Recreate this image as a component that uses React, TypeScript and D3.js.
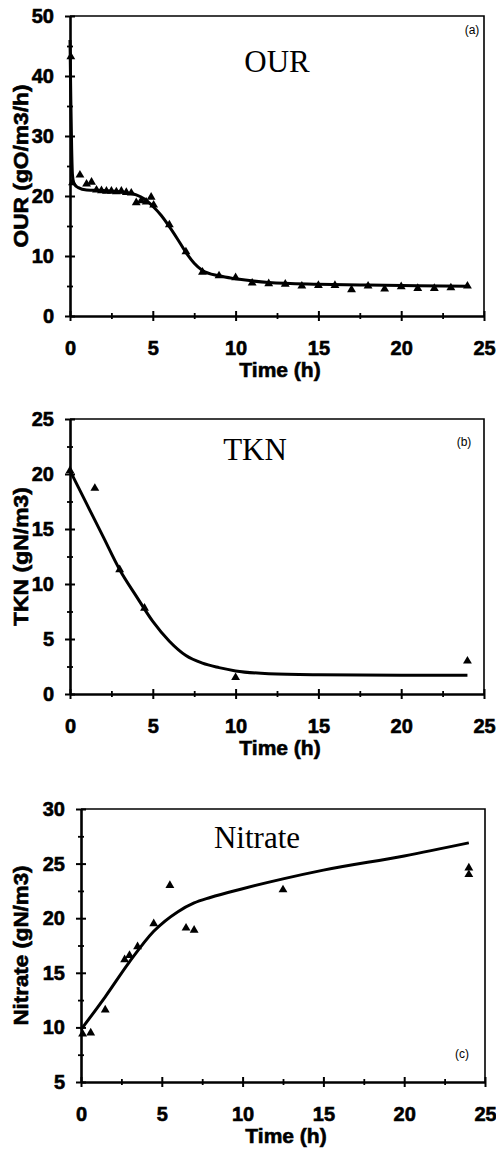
import React, { useEffect, useRef } from 'react';
import * as d3 from 'd3';

// (a) OUR - measured points and model curve
const ourTime = [0.05, 0.15, 0.6, 1.0, 1.3, 1.6, 1.9, 2.2, 2.5, 2.8, 3.1, 3.4, 3.7, 4.0, 4.3, 4.6, 4.9, 5.05, 6.0, 7.0, 8.0, 9.0, 10.0, 11, 12, 13, 14, 15, 16, 17, 18, 19, 20, 21, 22, 23, 24];
const ourValue = [43.2, 22.2, 23.5, 22.0, 22.3, 21.0, 20.9, 20.8, 20.8, 20.7, 20.8, 20.6, 20.5, 18.9, 19.2, 19.0, 19.8, 18.5, 15.2, 10.7, 7.3, 6.7, 6.4, 5.5, 5.4, 5.3, 5.0, 5.1, 5.1, 4.4, 5.0, 4.5, 4.9, 4.6, 4.6, 4.7, 5.0];
const ourModelTime = [0, 0.05, 0.1, 0.15, 0.25, 0.5, 1, 2, 3, 3.5, 4, 4.5, 5, 5.5, 6, 6.5, 7, 7.5, 8, 9, 10, 12, 15, 18, 21, 24];
const ourModelValue = [46, 36, 28, 23.5, 22.0, 21.4, 21.0, 20.9, 20.7, 20.5, 20.2, 19.5, 18.3, 16.8, 14.9, 12.8, 10.6, 8.8, 7.6, 6.7, 6.2, 5.6, 5.3, 5.15, 5.05, 4.95];

// (b) TKN
const tknTime = [0, 1.5, 3.0, 4.5, 10.0, 24.0];
const tknValue = [20.3, 18.7, 11.3, 7.8, 1.5, 3.0];
const tknModelTime = [0, 1, 2, 3, 4, 5, 6, 7, 8, 9, 10, 12, 15, 20, 24];
const tknModelValue = [20.3, 17.3, 14.3, 11.3, 8.9, 6.6, 4.8, 3.5, 2.8, 2.4, 2.1, 1.85, 1.75, 1.7, 1.7];

// (c) Nitrate
const no3Time = [0.1, 0.6, 1.5, 2.7, 3.0, 3.5, 4.5, 5.5, 6.5, 7.0, 12.5, 24.0, 24.0];
const no3Value = [9.4, 9.5, 11.6, 16.2, 16.6, 17.4, 19.5, 23.0, 19.1, 18.9, 22.6, 24.6, 24.0];
const no3ModelTime = [0, 1.5, 3, 4.5, 6, 7, 8, 10, 12.5, 15, 20, 24];
const no3ModelValue = [9.8, 12.8, 16.0, 18.8, 20.6, 21.4, 21.9, 22.7, 23.6, 24.4, 25.7, 26.9];

const xTicks = [0, 5, 10, 15, 20, 25];
const xMinorTicks = [2.5, 7.5, 12.5, 17.5, 22.5];

const panels = [
  {
    title: 'OUR', tag: '(a)', yLabel: 'OUR (gO/m3/h)',
    time: ourTime, value: ourValue, modelTime: ourModelTime, modelValue: ourModelValue,
    yDomain: [0, 50], yTicks: [0, 10, 20, 30, 40, 50], yMinor: [5, 15, 25, 35, 45],
    box: { left: 70, right: 484, top: 16, bottom: 316 },
    titlePos: [277, 72], tagPos: [472, 34], yLabelLen: 163,
  },
  {
    title: 'TKN', tag: '(b)', yLabel: 'TKN (gN/m3)',
    time: tknTime, value: tknValue, modelTime: tknModelTime, modelValue: tknModelValue,
    yDomain: [0, 25], yTicks: [0, 5, 10, 15, 20, 25], yMinor: [2.5, 7.5, 12.5, 17.5, 22.5],
    box: { left: 70, right: 484, top: 419, bottom: 694 },
    titlePos: [255, 460], tagPos: [464, 446], yLabelLen: 139,
  },
  {
    title: 'Nitrate', tag: '(c)', yLabel: 'Nitrate (gN/m3)',
    time: no3Time, value: no3Value, modelTime: no3ModelTime, modelValue: no3ModelValue,
    yDomain: [5, 30], yTicks: [5, 10, 15, 20, 25, 30], yMinor: [7.5, 12.5, 17.5, 22.5, 27.5],
    box: { left: 81, right: 485, top: 809, bottom: 1082 },
    titlePos: [257, 848], tagPos: [462, 1058], yLabelLen: 160,
  },
];

function App() {
  const svgRef = useRef<SVGSVGElement>(null);

  useEffect(() => {
    document.body.style.margin = '0';
    const svg = d3.select(svgRef.current);
    svg.selectAll('*').remove();

    const sans = '"Liberation Sans", Arial, sans-serif';
    const serif = '"Liberation Serif", "Times New Roman", serif';

    panels.forEach(p => {
      const { left, right, top, bottom } = p.box;
      const x = d3.scaleLinear().domain([0, 25]).range([left, right]);
      const y = d3.scaleLinear().domain(p.yDomain).range([bottom, top]);
      const g = svg.append('g');

      // frame top / right
      g.append('path')
        .attr('d', `M${left},${top}H${right}V${bottom}`)
        .attr('fill', 'none').attr('stroke', '#000').attr('stroke-width', 1.6);

      // minor ticks
      g.append('g').attr('transform', `translate(0,${bottom})`)
        .call(d3.axisBottom(x).tickValues(xMinorTicks).tickSize(0).tickFormat(() => ''))
        .call(a => a.select('.domain').remove())
        .call(a => a.selectAll('.tick line').attr('y1', -3).attr('y2', 3).attr('stroke-width', 1.8));
      g.append('g').attr('transform', `translate(${left},0)`)
        .call(d3.axisLeft(y).tickValues(p.yMinor).tickSize(0).tickFormat(() => ''))
        .call(a => a.select('.domain').remove())
        .call(a => a.selectAll('.tick line').attr('x1', -3).attr('x2', 3).attr('stroke-width', 1.8));

      const boldText = (sel: any, size: number) => sel
        .attr('font-family', sans).attr('font-weight', 'bold').attr('font-size', size)
        .attr('fill', '#000').attr('stroke', '#000').attr('stroke-width', 0.6);

      // major axes
      g.append('g').attr('transform', `translate(0,${bottom})`)
        .call(d3.axisBottom(x).tickValues(xTicks).tickSize(5).tickPadding(20).tickSizeOuter(0))
        .call(a => a.select('.domain').attr('stroke-width', 2.6))
        .call(a => a.selectAll('.tick line').attr('y1', -5).attr('y2', 5).attr('stroke-width', 2))
        .call(a => boldText(a.selectAll('text'), 20));
      g.append('g').attr('transform', `translate(${left},0)`)
        .call(d3.axisLeft(y).tickValues(p.yTicks).tickSize(5).tickPadding(11).tickSizeOuter(0))
        .call(a => a.select('.domain').attr('stroke-width', 2.6))
        .call(a => a.selectAll('.tick line').attr('x1', -5).attr('x2', 5).attr('stroke-width', 2))
        .call(a => boldText(a.selectAll('text'), 20));

      // axis titles
      boldText(g.append('text'), 21)
        .attr('x', (left + right) / 2 + 3).attr('y', bottom + 61)
        .attr('text-anchor', 'middle')
        .text('Time (h)');
      boldText(g.append('text'), 20)
        .attr('transform', `translate(28,${(top + bottom) / 2}) rotate(-90)`)
        .attr('text-anchor', 'middle')
        .attr('textLength', p.yLabelLen).attr('lengthAdjust', 'spacingAndGlyphs')
        .text(p.yLabel);

      // panel title and tag
      g.append('text')
        .attr('x', p.titlePos[0]).attr('y', p.titlePos[1])
        .attr('text-anchor', 'middle')
        .attr('font-family', serif).attr('font-size', 31)
        .text(p.title);
      g.append('text')
        .attr('x', p.tagPos[0]).attr('y', p.tagPos[1])
        .attr('text-anchor', 'middle')
        .attr('font-family', sans).attr('font-size', 12)
        .text(p.tag);

      // model curve
      const model = p.modelTime.map((t, i) => [t, p.modelValue[i]] as [number, number]);
      g.append('path')
        .datum(model)
        .attr('fill', 'none').attr('stroke', '#000').attr('stroke-width', 3)
        .attr('d', d3.line<[number, number]>().x(d => x(d[0])).y(d => y(d[1])).curve(d3.curveMonotoneX));

      // measured points
      const tri = d3.symbol().type(d3.symbolTriangle).size(34);
      g.selectAll('path.pt')
        .data(p.time.map((t, i) => [t, p.value[i]]))
        .enter()
        .append('path')
        .attr('class', 'pt')
        .attr('d', tri)
        .attr('transform', d => `translate(${x(d[0])},${y(d[1])})`)
        .attr('fill', '#000');
    });
  }, []);

  return (
    <div style={{ width: 496, height: 1153 }}>
      <svg ref={svgRef} width={496} height={1153} style={{ display: 'block' }}></svg>
    </div>
  );
}

export default App;
